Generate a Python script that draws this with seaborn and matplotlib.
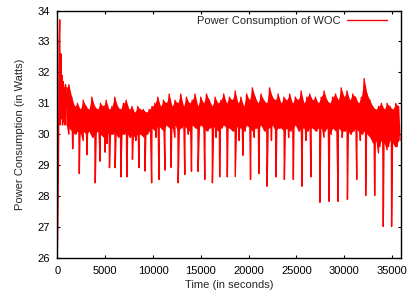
import numpy as np
import pandas as pd
import matplotlib
matplotlib.use('Agg')
import matplotlib.pyplot as plt
import seaborn as sns

# warm-up at the start of the run (seconds, watts)
start_time = [0, 60, 120, 180, 240, 300, 360, 420, 480, 540, 600, 660, 720, 780, 840]
start_power = [26.3, 27.6, 29.6, 32.9, 33.7, 30.3, 32.6, 30.5, 31.9, 30.3, 31.7, 30.4, 31.5, 30.3, 31.6]

# noisy band: upper readings every 300 s from 900 s, lower readings 150 s later
band_start_s = 900
band_step_s = 150
band_top = [
    31.5, 31.6, 31.2, 30.9, 31.0, 30.8, 31.1, 30.9,
    30.8, 31.2, 30.9, 30.8, 31.0, 30.9, 31.1, 30.8, 30.9, 31.2,
    30.9, 30.8, 31.0, 31.1, 30.8, 30.9, 30.7, 30.9, 30.8, 30.8,
    30.7, 30.8, 30.9, 31.0, 31.2, 30.9, 31.1, 31.0, 31.3, 30.9,
    31.1, 31.0, 31.3, 30.9, 31.2, 31.0, 31.1, 31.3, 30.9, 31.2,
    31.0, 31.3, 31.1, 30.9, 31.2, 31.0, 31.1, 31.3, 31.0, 31.2,
    31.1, 31.4, 31.0, 31.2, 30.9, 31.3, 31.1, 31.5, 31.2, 31.0,
    31.3, 31.1, 31.0, 31.5, 31.2, 31.1, 31.3, 31.0, 31.2, 31.1,
    31.3, 31.0, 31.2, 31.1, 31.4, 31.0, 31.2, 31.3, 31.1, 31.2,
    31.0, 31.2, 31.4, 31.1, 31.0, 31.2, 31.3, 31.1, 31.5, 31.2,
    31.4, 31.1, 31.3, 31.2, 31.0, 31.2, 31.8, 31.3, 31.1, 30.9,
    30.8, 30.9, 31.0, 30.8, 31.0, 30.9, 30.8, 31.0, 30.9,
]
band_bottom = [
    30.3, 30.2, 30.1, 30.0, 30.1, 30.0, 30.1,
    30.0, 30.1, 29.9, 30.0, 30.1, 30.0, 29.9, 30.1, 30.0, 30.0,
    30.1, 29.9, 30.0, 30.0, 30.1, 29.9, 30.0, 29.9, 30.0, 30.0,
    29.9, 30.0, 30.1, 30.2, 30.1, 30.3, 30.2, 30.1, 30.3, 30.2,
    30.2, 30.3, 30.1, 30.2, 30.3, 30.2, 30.1, 30.3, 30.2, 30.2,
    30.3, 30.2, 30.1, 30.2, 30.3, 30.2, 30.1, 30.2, 30.3, 30.2,
    30.2, 30.1, 30.3, 30.2, 30.2, 30.1, 30.3, 30.2, 30.1, 30.2,
    30.2, 30.3, 30.1, 30.2, 30.2, 30.3, 30.1, 30.2, 30.2, 30.1,
    30.2, 30.1, 30.2, 30.3, 30.1, 30.2, 30.2, 30.1, 30.2, 30.2,
    30.1, 30.2, 30.2, 30.1, 30.2, 30.0, 30.2, 30.1, 30.2, 30.1,
    30.1, 30.2, 30.0, 30.1, 30.2, 30.1, 30.0, 30.1, 30.0, 29.9,
    29.7, 29.8, 29.6, 29.8, 29.7, 29.6, 29.8, 29.7, 29.6, 29.8,
]

# periodic drops in power
dip_time = [1600, 2290, 3090, 3960, 4480, 5000, 5450, 6040, 6630, 7260, 7850,
            8540, 9170, 9860, 10630, 11250, 11900, 12640, 13330, 14030, 14720,
            15420, 16220, 16980, 17780, 18610, 19410, 20210, 21080, 21940,
            22880, 23750, 24690, 25590, 26530, 27470, 28440, 29380, 30350,
            31320, 32260, 33200, 34100, 34970]
dip_power = [29.53, 28.73, 29.34, 28.43, 29.13, 29.42, 28.92, 28.92, 28.62,
             28.62, 29.19, 28.92, 28.81, 28.43, 28.54, 28.84, 28.93, 28.43,
             28.70, 28.80, 28.80, 28.54, 28.43, 28.62, 28.62, 28.63, 29.32,
             28.54, 28.73, 28.32, 28.62, 28.54, 28.54, 28.32, 28.62, 27.80,
             27.83, 27.83, 27.90, 28.54, 28.02, 28.02, 27.02, 27.02]
minor_dip_time = [1200, 2700, 5200, 8200, 10300, 12300, 13700, 16600, 19000,
                  20600, 22400, 24200, 26000, 27900, 29800, 31700, 33600,
                  34500, 35400]
minor_dip_power = [30.0, 29.8, 29.7, 29.8, 29.9, 29.9, 30.0, 29.9, 29.8, 29.9,
                   29.8, 29.9, 29.8, 29.9, 29.9, 29.8, 29.4, 29.5, 29.6]

top_t = band_start_s + 2 * band_step_s * np.arange(len(band_top))
bot_t = band_start_s + band_step_s + 2 * band_step_s * np.arange(len(band_bottom))

df = pd.concat([
    pd.DataFrame({'Time': start_time, 'Power': start_power}),
    pd.DataFrame({'Time': top_t, 'Power': band_top}),
    pd.DataFrame({'Time': bot_t, 'Power': band_bottom}),
    pd.DataFrame({'Time': dip_time, 'Power': dip_power}),
    pd.DataFrame({'Time': minor_dip_time, 'Power': minor_dip_power}),
]).sort_values('Time').reset_index(drop=True)

sns.set_style('ticks')
plt.rcParams['font.family'] = ['Liberation Sans', 'DejaVu Sans']
plt.rcParams['font.size'] = 8
plt.rcParams['path.simplify'] = False

fig = plt.figure(figsize=(4.13, 2.92), dpi=100)
ax = fig.add_axes([0.139, 0.1164, 0.833, 0.8476])

# solid core of the noisy band
ax.fill_between(top_t, band_bottom, band_top, color='red', linewidth=0)

sns.lineplot(data=df, x='Time', y='Power', estimator=None, sort=True,
             color='red', linewidth=1.0, label='Power Consumption of WOC', ax=ax)

ax.set_xlim(0, 36000)
ax.set_ylim(26, 34)
ax.set_xticks(range(0, 36000, 5000))
ax.set_yticks(range(26, 35))
ax.tick_params(direction='in', length=2.5, width=0.8, top=True, right=True,
               labelsize=8, pad=5.5, colors='black')
for s in ax.spines.values():
    s.set_linewidth(1.0)
    s.set_color('black')

ax.set_xlabel('Time (in seconds)', fontsize=8, labelpad=3)
ax.set_ylabel('Power Consumption (in Watts)', fontsize=8, labelpad=9)

ax.legend(loc='upper right', bbox_to_anchor=(0.958, 0.978), frameon=False,
          markerfirst=False, handlelength=3.6, handletextpad=0.6,
          borderpad=0, borderaxespad=0, fontsize=8)

fig.savefig('out.png', dpi=100)
